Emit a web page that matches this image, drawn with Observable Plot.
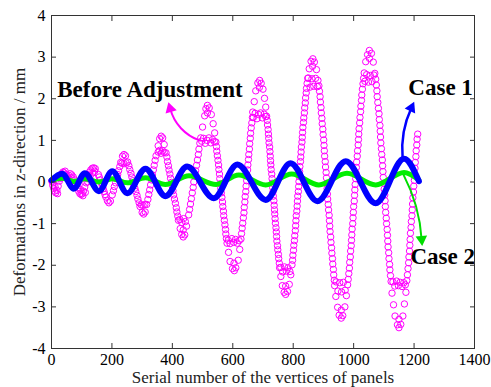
<!DOCTYPE html>
<html><head><meta charset="utf-8">
<script src="https://cdn.jsdelivr.net/npm/d3@7"></script>
<script src="https://cdn.jsdelivr.net/npm/@observablehq/plot@0.6"></script>
<style>html,body{margin:0;padding:0;background:#fff}</style>
</head><body><div id="chart"></div>
<script>
const xTicks = [0,200,400,600,800,1000,1200,1400];
const yTicks = [-4,-3,-2,-1,0,1,2,3,4];

// "Before Adjustment" circles: [serial number, deformation mm]
const bA = [[1,0.02],[4,-0.08],[7,-0.15],[10,-0.22],[14,-0.26],[18,-0.2],[22,-0.1],[26,0.02],[30,0.12],[34,0.2],[38,0.24],[42,0.22],[47,0.18],[52,0.14],[57,0.16],[62,0.2],[67,0.17],[72,0.12],[77,0.05],[82,-0.05],[86,-0.14],[90,-0.22],[94,-0.28],[98,-0.3],[102,-0.28],[106,-0.22],[110,-0.12],[114,-0.02],[118,0.08],[122,0.17],[126,0.24],[130,0.29],[135,0.33],[140,0.34],[5,-0.02],[12,-0.12],[20,-0.28],[28,0.08],[36,0.12],[45,0.26],[55,0.08],[65,0.1],[88,-0.02],[96,-0.18],[104,-0.33],[112,-0.25],[120,0.0],[128,0.14],[137,0.22],[143,0.26]];
const bB = [[145,0.32],[155,0.18],[161,0.05],[168,-0.09],[174,-0.23],[180,-0.36],[158,0.12],[165,-0.02],[171,-0.16],[177,-0.30],[190,-0.50],[201,-0.31],[208,-0.11],[215,0.08],[222,0.27],[229,0.47],[205,-0.21],[212,-0.02],[219,0.18],[226,0.37],[185,-0.45],[195,-0.46],[240,0.66],[252,0.48],[259,0.30],[266,0.12],[272,-0.06],[279,-0.23],[286,-0.41],[293,-0.59],[256,0.39],[263,0.21],[269,0.03],[276,-0.15],[283,-0.32],[290,-0.50],[233,0.45],[240,0.44],[247,0.46],[235,0.62],[245,0.63]];
const bC = [[297,-0.55],[303,-0.56],[309,-0.54],[300,-0.73],[310,-0.72],[305,-0.77],[315,-0.54],[322,-0.30],[328,-0.07],[334,0.17],[340,0.40],[346,0.63],[353,0.87],[319,-0.42],[325,-0.19],[331,0.05],[337,0.29],[343,0.52],[363,1.10],[373,0.90],[379,0.70],[384,0.49],[389,0.29],[394,0.09],[400,-0.11],[404,-0.31],[410,-0.51],[415,-0.72],[420,-0.92],[426,-1.12],[382,0.60],[387,0.39],[392,0.19],[397,-0.01],[402,-0.21],[407,-0.41],[413,-0.62],[418,-0.82],[353,0.72],[358,0.76],[363,0.69],[368,0.75],[373,0.71],[358,1.04],[368,1.06]];
const bD = [[436,-1.32],[447,-1.06],[454,-0.79],[460,-0.53],[466,-0.26],[471,0.00],[477,0.27],[483,0.53],[488,0.79],[494,1.06],[500,1.32],[507,1.59],[457,-0.66],[463,-0.40],[469,-0.13],[474,0.14],[480,0.40],[486,0.66],[491,0.93],[425,-0.90],[431,-0.97],[437,-0.88],[443,-0.95],[431,-1.26],[441,-1.27],[436,-1.15],[516,1.84],[529,1.62],[535,1.40],[540,1.18],[544,0.96],[547,0.74],[551,0.52],[554,0.30],[557,0.08],[560,-0.15],[564,-0.37],[567,-0.59],[570,-0.81],[574,-1.03],[577,-1.25],[581,-1.47],[586,-1.69],[591,-1.91],[546,0.85],[549,0.63],[553,0.41],[556,0.19],[559,-0.04],[562,-0.26],[566,-0.48],[569,-0.70],[572,-0.92],[576,-1.14],[579,-1.36],[497,0.98],[503,1.05],[509,0.93],[515,1.0],[521,1.06],[527,0.94],[533,1.02],[539,0.97],[511,1.76],[522,1.78],[516,1.66]];
const bE = [[605,-2.13],[618,-1.88],[623,-1.62],[627,-1.37],[631,-1.11],[635,-0.86],[638,-0.61],[641,-0.35],[644,-0.10],[647,0.16],[650,0.41],[653,0.66],[656,0.92],[659,1.17],[663,1.42],[666,1.68],[671,1.93],[676,2.19],[629,-1.24],[633,-0.99],[637,-0.74],[640,-0.48],[643,-0.23],[646,0.03],[649,0.29],[652,0.54],[655,0.79],[658,1.05],[661,1.30],[665,1.55],[585,-1.40],[591,-1.48],[597,-1.36],[603,-1.45],[609,-1.38],[615,-1.47],[621,-1.41],[599,-2.08],[610,-2.06],[604,-1.95],[689,2.44],[700,2.23],[705,2.01],[709,1.80],[712,1.58],[715,1.37],[718,1.15],[720,0.94],[723,0.73],[725,0.51],[727,0.30],[730,0.08],[732,-0.13],[734,-0.34],[737,-0.56],[739,-0.77],[741,-0.99],[744,-1.20],[746,-1.42],[749,-1.63],[752,-1.84],[755,-2.06],[759,-2.27],[764,-2.49],[714,1.48],[717,1.26],[719,1.05],[722,0.84],[724,0.62],[726,0.41],[729,0.19],[731,-0.03],[733,-0.24],[736,-0.45],[738,-0.67],[740,-0.88],[743,-1.10],[745,-1.31],[748,-1.53],[751,-1.74],[754,-1.95],[668,1.55],[674,1.65],[680,1.52],[686,1.62],[692,1.66],[698,1.54],[704,1.63],[709,1.57],[683,2.38],[694,2.37],[688,2.27]];
const bF = [[775,-2.70],[787,-2.46],[792,-2.23],[796,-1.99],[799,-1.76],[802,-1.52],[805,-1.29],[808,-1.05],[810,-0.81],[813,-0.58],[815,-0.34],[818,-0.11],[820,0.13],[822,0.37],[825,0.60],[827,0.84],[830,1.07],[832,1.31],[835,1.54],[838,1.78],[841,2.02],[844,2.25],[848,2.49],[853,2.72],[798,-1.88],[801,-1.64],[804,-1.41],[807,-1.17],[809,-0.93],[812,-0.70],[814,-0.46],[817,-0.23],[819,0.01],[821,0.25],[824,0.49],[826,0.72],[829,0.96],[831,1.19],[834,1.43],[837,1.66],[840,1.90],[843,2.14],[846,2.37],[759,-2.05],[765,-2.16],[771,-2.04],[777,-2.14],[783,-2.06],[789,-2.15],[770,-2.65],[781,-2.63],[775,-2.50],[865,2.96],[877,2.70],[882,2.44],[887,2.18],[890,1.92],[893,1.66],[896,1.40],[899,1.14],[902,0.88],[904,0.62],[907,0.36],[910,0.10],[912,-0.16],[914,-0.41],[917,-0.67],[920,-0.93],[922,-1.19],[925,-1.45],[928,-1.71],[931,-1.97],[934,-2.23],[937,-2.49],[941,-2.75],[947,-3.01],[885,2.31],[889,2.05],[892,1.79],[895,1.53],[898,1.27],[901,1.01],[903,0.75],[906,0.49],[909,0.23],[911,-0.03],[913,-0.29],[916,-0.54],[919,-0.80],[921,-1.06],[924,-1.32],[927,-1.58],[930,-1.84],[933,-2.10],[936,-2.36],[850,2.50],[856,2.28],[862,2.48],[868,2.30],[874,2.49],[880,2.29],[859,2.90],[870,2.88],[864,2.78]];
const bG = [[959,-3.27],[971,-3.00],[976,-2.73],[980,-2.47],[984,-2.20],[987,-1.93],[990,-1.66],[993,-1.40],[995,-1.13],[998,-0.86],[1000,-0.59],[1003,-0.32],[1005,-0.06],[1008,0.21],[1010,0.48],[1013,0.75],[1016,1.02],[1018,1.28],[1021,1.55],[1024,1.82],[1027,2.09],[1031,2.36],[1035,2.62],[1040,2.89],[982,-2.34],[986,-2.07],[989,-1.80],[992,-1.53],[994,-1.27],[997,-1.00],[999,-0.73],[1002,-0.46],[1004,-0.19],[1007,0.08],[1009,0.35],[1012,0.62],[1015,0.89],[1017,1.15],[1020,1.42],[1023,1.69],[1026,1.96],[1029,2.23],[1033,2.49],[942,-2.40],[948,-2.62],[954,-2.42],[960,-2.64],[966,-2.41],[972,-2.60],[952,-3.20],[964,-3.21],[959,-3.08],[1052,3.16],[1065,2.88],[1070,2.61],[1075,2.33],[1078,2.05],[1082,1.77],[1085,1.50],[1088,1.22],[1090,0.94],[1093,0.66],[1096,0.39],[1098,0.11],[1101,-0.17],[1104,-0.45],[1106,-0.73],[1109,-1.00],[1112,-1.28],[1114,-1.56],[1117,-1.84],[1120,-2.11],[1124,-2.39],[1127,-2.67],[1132,-2.95],[1137,-3.22],[1073,2.47],[1077,2.19],[1080,1.91],[1084,1.64],[1087,1.36],[1089,1.08],[1092,0.80],[1095,0.53],[1097,0.25],[1100,-0.03],[1103,-0.31],[1105,-0.59],[1108,-0.87],[1111,-1.14],[1113,-1.42],[1116,-1.70],[1119,-1.98],[1122,-2.25],[1037,2.42],[1043,2.58],[1049,2.40],[1055,2.56],[1061,2.41],[1067,2.57],[1046,3.06],[1059,3.09],[1052,2.97]];
const bH = [[1150,-3.50],[1163,-3.22],[1168,-2.93],[1173,-2.65],[1176,-2.37],[1180,-2.08],[1183,-1.80],[1186,-1.52],[1188,-1.23],[1191,-0.95],[1194,-0.67],[1196,-0.38],[1199,-0.10],[1202,0.18],[1204,0.47],[1207,0.75],[1210,1.03],[1212,1.15],[1178,-2.23],[1182,-1.94],[1185,-1.66],[1187,-1.38],[1190,-1.09],[1193,-0.81],[1195,-0.53],[1198,-0.24],[1201,0.04],[1203,0.33],[1206,0.61],[1209,0.89],[1130,-2.40],[1136,-2.50],[1142,-2.38],[1148,-2.49],[1154,-2.41],[1160,-2.51],[1166,-2.42],[1171,-2.47],[1145,-3.43],[1156,-3.42],[1150,-3.30]];

// Case 1 (blue) and Case 2 (green): turning points of the curves
const case1 = [[0,0.04],[35,0.20],[74,-0.16],[110,0.21],[157,-0.22],[201,0.26],[251,-0.27],[311,0.32],[377,-0.34],[449,0.37],[537,-0.39],[615,0.42],[709,-0.43],[791,0.45],[880,-0.46],[974,0.50],[1073,-0.51],[1167,0.56],[1216,0.02]];
const case2 = [[0,0.05],[35,0.09],[74,0.01],[110,0.08],[157,0.0],[201,0.08],[251,-0.02],[311,0.1],[377,-0.06],[455,0.15],[545,-0.06],[620,0.17],[709,-0.07],[795,0.19],[885,-0.07],[978,0.21],[1073,-0.07],[1167,0.23],[1216,0.05]];

// annotations
const notes = [
  {text: "Before Adjustment", x: 19, y: 2.04},
  {text: "Case 1", x: 1181, y: 2.08},
  {text: "Case 2", x: 1188, y: -1.97}
];
const arrowMag = [{x1: 490, y1: 1.0, x2: 393, y2: 1.76}];
const arrowBlue = [{x1: 1162, y1: 0.59, x2: 1191, y2: 1.78}];
const arrowGreen = [{x1: 1166, y1: 0.16, x2: 1225, y2: -1.38}];
const heads = [
  {x: 393, y: 1.76, a: -16, c: "#ff00ff"},
  {x: 1191, y: 1.78, a: 25, c: "#0000ff"},
  {x: 1225, y: -1.38, a: 175, c: "#00dd00"}
];

const toObj = ([sn, dz]) => ({sn, dz});
const before = [...bA, ...bB, ...bC, ...bD, ...bE, ...bF, ...bG, ...bH].map(toObj);
const c1 = case1.map(toObj);
const c2 = case2.map(toObj);

const fmt = d => String(d);
const chart = Plot.plot({
  width: 491, height: 387,
  marginLeft: 51, marginRight: 17, marginTop: 15, marginBottom: 39,
  x: {domain: [0, 1400]},
  y: {domain: [-4, 4]},
  style: {fontFamily: "'Liberation Serif', 'Times New Roman', serif", fontSize: "16px", color: "#000", background: "#fff", overflow: "visible"},
  marks: [
    Plot.dot(before, {x: "sn", y: "dz", r: 3.2, stroke: "#ff00ff", strokeWidth: 1, fill: "none"}),
    Plot.line(c2, {x: "sn", y: "dz", stroke: "#00ee00", strokeWidth: 5, curve: "monotone-x", strokeLinecap: "round"}),
    Plot.line(c1, {x: "sn", y: "dz", stroke: "#0000ff", strokeWidth: 6, curve: "monotone-x", strokeLinecap: "round"}),
    Plot.arrow(arrowMag, {x1: "x1", y1: "y1", x2: "x2", y2: "y2", bend: 28, stroke: "#ff00ff", strokeWidth: 2, headLength: 0}),
    Plot.arrow(arrowBlue, {x1: "x1", y1: "y1", x2: "x2", y2: "y2", bend: 15, stroke: "#0000ff", strokeWidth: 2.5, headLength: 0}),
    Plot.arrow(arrowGreen, {x1: "x1", y1: "y1", x2: "x2", y2: "y2", bend: 12, stroke: "#00dd00", strokeWidth: 2, headLength: 0}),
    Plot.dot(heads, {x: "x", y: "y", symbol: "triangle", r: 4.3, fill: "c", rotate: "a", stroke: null}),
    Plot.text(notes, {x: "x", y: "y", text: "text", textAnchor: "start", lineAnchor: "bottom", fontSize: 23, fontWeight: "bold", fill: "#000"}),
    Plot.frame({stroke: "#333"}),
    Plot.axisX(xTicks, {anchor: "bottom", tickSize: -5, tickPadding: 10, tickFormat: fmt, label: null, stroke: "#333"}),
    Plot.axisX(xTicks, {anchor: "top", tickSize: -5, tickFormat: () => "", label: null, stroke: "#333"}),
    Plot.axisY(yTicks, {anchor: "left", tickSize: -5, tickPadding: 11, tickFormat: fmt, label: null, stroke: "#333"}),
    Plot.axisY(yTicks, {anchor: "right", tickSize: -5, tickFormat: () => "", label: null, stroke: "#333"}),
    Plot.text(["Serial number of the vertices of panels"], {frameAnchor: "bottom", dy: 34, lineAnchor: "bottom", textAnchor: "middle", fontSize: 17, fill: "#222"}),
    Plot.text(["Deformations in z-direction / mm"], {frameAnchor: "left", dx: -32, rotate: -90, textAnchor: "middle", lineAnchor: "middle", fontSize: 17, fill: "#222"})
  ]
});
document.getElementById("chart").appendChild(chart);
</script>
</body></html>
